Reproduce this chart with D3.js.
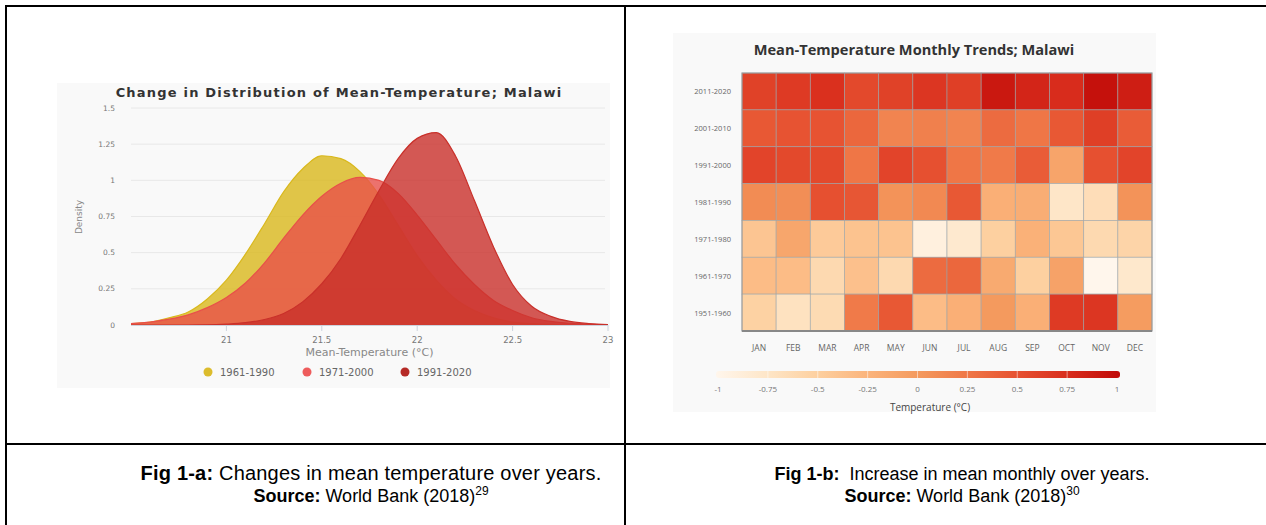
<!DOCTYPE html>
<html>
<head>
<meta charset="utf-8">
<script src="https://cdn.jsdelivr.net/npm/d3@7"></script>
<style>
  body { margin: 0; background: #fff; }
  svg { display: block; }
</style>
</head>
<body>
<svg id="fig" width="1266" height="525"></svg>
<script>
// ---- Fig 1-a data: density of mean temperature ----
const tempPoints = [20.5, 20.6, 20.7, 20.8, 20.9, 21.0, 21.1, 21.2, 21.3, 21.4, 21.5, 21.6, 21.7,
                    21.8, 21.9, 22.0, 22.1, 22.2, 22.3, 22.4, 22.5, 22.6, 22.7, 22.8, 22.9, 23.0];
const density1961 = [0.01, 0.02, 0.05, 0.09, 0.18, 0.31, 0.49, 0.70, 0.92, 1.08, 1.17, 1.15, 1.06,
                     0.90, 0.69, 0.48, 0.31, 0.18, 0.10, 0.05, 0.02, 0.01, 0.004, 0, 0, 0];
const density1971 = [0.01, 0.02, 0.04, 0.07, 0.12, 0.19, 0.29, 0.43, 0.60, 0.76, 0.89, 0.98, 1.02,
                     1.00, 0.91, 0.76, 0.59, 0.42, 0.28, 0.17, 0.10, 0.05, 0.025, 0.012, 0.005, 0.002];
const density1991 = [0, 0, 0, 0, 0.001, 0.006, 0.016, 0.038, 0.08, 0.16, 0.285, 0.46, 0.69,
                     0.93, 1.15, 1.29, 1.33, 1.17, 0.86, 0.54, 0.28, 0.13, 0.06, 0.025, 0.01, 0.003];
const periodNames = ["1961-1990", "1971-2000", "1991-2020"];
const densityTicks = [0, 0.25, 0.5, 0.75, 1, 1.25, 1.5];
const tempTicks = [21, 21.5, 22, 22.5, 23];

// ---- Fig 1-b data: monthly anomaly by decade (°C) ----
const decades = ["2011-2020", "2001-2010", "1991-2000", "1981-1990", "1971-1980", "1961-1970", "1951-1960"];
const months = ["JAN", "FEB", "MAR", "APR", "MAY", "JUN", "JUL", "AUG", "SEP", "OCT", "NOV", "DEC"];
const anomalies = [
  [0.60, 0.65, 0.72, 0.55, 0.60, 0.68, 0.62, 0.90, 0.80, 0.75, 0.95, 0.85],
  [0.45, 0.48, 0.48, 0.35, 0.15, 0.18, 0.15, 0.32, 0.25, 0.45, 0.62, 0.42],
  [0.58, 0.55, 0.55, 0.25, 0.58, 0.50, 0.25, 0.22, 0.42, -0.10, 0.50, 0.58],
  [0.10, 0.08, 0.50, 0.46, 0.05, 0.12, 0.45, -0.20, -0.18, -0.75, -0.65, 0.05],
  [-0.40, -0.12, -0.45, -0.38, -0.38, -0.90, -0.80, -0.50, -0.22, -0.42, -0.60, -0.55],
  [-0.32, -0.32, -0.60, -0.36, -0.60, 0.32, 0.35, -0.15, -0.50, -0.08, -1.00, -0.78],
  [-0.52, -0.70, -0.62, 0.22, 0.45, -0.32, -0.20, 0.00, -0.20, 0.65, 0.68, -0.02]
];
const legendTicks = [-1, -0.75, -0.5, -0.25, 0, 0.25, 0.5, 0.75, 1];
const legendColors = ["#fff6ec", "#fee6c8", "#fdd0a0", "#fbb47c", "#f49a5e",
                      "#ef7646", "#e65030", "#d82c1c", "#c00a08"];

const svg = d3.select("#fig");
svg.append("rect").attr("width", 1266).attr("height", 525).attr("fill", "#fff");

// =================== left chart ===================
const left = svg.append("g");
left.append("rect").attr("x", 57).attr("y", 83).attr("width", 553).attr("height", 305).attr("fill", "#f9f9f9");

const x = d3.scaleLinear().domain([20.5, 23]).range([131, 608]);
const y = d3.scaleLinear().domain([0, 1.5]).range([325, 108]);

left.append("g").selectAll("line").data(densityTicks.filter(d => d > 0)).join("line")
  .attr("x1", 131).attr("x2", 605)
  .attr("y1", d => y(d)).attr("y2", d => y(d))
  .attr("stroke", "#e8e8e8").attr("stroke-width", 1);

left.append("g").selectAll("text").data(densityTicks).join("text")
  .attr("x", 115).attr("y", d => y(d) + 2.5)
  .attr("text-anchor", "end")
  .attr("font-family", "DejaVu Sans").attr("font-size", 7.5).attr("fill", "#777")
  .text(d => d);

const series = [
  { name: periodNames[0], values: density1961, color: "#d9b81c", legend: "#dcbc2c" },
  { name: periodNames[1], values: density1971, color: "#e8504a", legend: "#ee5c5c" },
  { name: periodNames[2], values: density1991, color: "#c9302a", legend: "#b52a26" }
];

const area = d3.area()
  .x((d, i) => x(tempPoints[i]))
  .y0(y(0))
  .y1(d => y(d))
  .curve(d3.curveMonotoneX);
const line = d3.line()
  .x((d, i) => x(tempPoints[i]))
  .y(d => y(d))
  .curve(d3.curveMonotoneX);

series.forEach(s => {
  left.append("path").datum(s.values).attr("d", area)
    .attr("fill", s.color).attr("fill-opacity", 0.8);
  left.append("path").datum(s.values).attr("d", line)
    .attr("fill", "none").attr("stroke", s.color).attr("stroke-width", 1.2);
});

// x axis
left.append("line").attr("x1", 131).attr("x2", 608).attr("y1", 325.5).attr("y2", 325.5)
  .attr("stroke", "#ccd3dd");
const xTicks = left.append("g").selectAll("g").data(tempTicks).join("g")
  .attr("transform", d => `translate(${x(d)},0)`);
xTicks.append("line").attr("y1", 325).attr("y2", 331).attr("stroke", "#ccd3dd");
xTicks.append("text").attr("y", 343).attr("text-anchor", "middle")
  .attr("font-family", "DejaVu Sans").attr("font-size", 8.5).attr("fill", "#777")
  .text(d => d);

left.append("text").attr("x", x(21.75)).attr("y", 356).attr("text-anchor", "middle")
  .attr("font-family", "DejaVu Sans").attr("font-size", 11).attr("fill", "#888")
  .text("Mean-Temperature (°C)");
left.append("text").attr("transform", "translate(82,217) rotate(-90)").attr("text-anchor", "middle")
  .attr("font-family", "DejaVu Sans").attr("font-size", 9).attr("fill", "#888")
  .text("Density");

left.append("text").attr("x", 339).attr("y", 97).attr("text-anchor", "middle")
  .attr("font-family", "DejaVu Sans").attr("font-weight", "bold").attr("font-size", 13)
  .attr("letter-spacing", 1.2).attr("fill", "#333")
  .text("Change in Distribution of Mean-Temperature; Malawi");

// legend
const legendX = [208, 307, 405];
const lg = left.append("g").selectAll("g").data(series).join("g")
  .attr("transform", (d, i) => `translate(${legendX[i]},372)`);
lg.append("circle").attr("r", 4.5).attr("fill", d => d.legend);
lg.append("text").attr("x", 12).attr("y", 3.5)
  .attr("font-family", "DejaVu Sans").attr("font-size", 10).attr("fill", "#666")
  .text(d => d.name);

// =================== right chart ===================
const right = svg.append("g");
right.append("rect").attr("x", 673).attr("y", 33).attr("width", 483).attr("height", 379).attr("fill", "#f9f9f9");

right.append("text").attr("x", 914).attr("y", 55).attr("text-anchor", "middle")
  .attr("font-family", "Open Sans").attr("font-weight", "bold").attr("font-size", 14.6)
  .attr("fill", "#333")
  .text("Mean-Temperature Monthly Trends; Malawi");

const col = d3.scaleBand().domain(months).range([742, 1152]);
const row = d3.scaleBand().domain(decades).range([73, 331]);
const color = d3.scaleLinear().domain(legendTicks).range(legendColors).interpolate(d3.interpolateRgb);

const cells = [];
anomalies.forEach((r, i) => r.forEach((v, j) => cells.push({ decade: decades[i], month: months[j], v })));

right.append("g").selectAll("rect").data(cells).join("rect")
  .attr("x", d => col(d.month)).attr("y", d => row(d.decade))
  .attr("width", col.bandwidth()).attr("height", row.bandwidth())
  .attr("fill", d => color(d.v))
  .attr("stroke", "#9aa4aa").attr("stroke-width", 0.8).attr("stroke-opacity", 0.7);

right.append("rect").attr("x", 742).attr("y", 73).attr("width", 410).attr("height", 258)
  .attr("fill", "none").attr("stroke", "#999").attr("stroke-width", 1);
right.append("line").attr("x1", 742).attr("x2", 1152).attr("y1", 331).attr("y2", 331)
  .attr("stroke", "#888").attr("stroke-width", 2);

right.append("g").selectAll("text").data(decades).join("text")
  .attr("x", 731).attr("y", d => row(d) + row.bandwidth() / 2 + 3)
  .attr("text-anchor", "end")
  .attr("font-family", "Open Sans").attr("font-size", 7.5).attr("fill", "#666")
  .text(d => d);

right.append("g").selectAll("text").data(months).join("text")
  .attr("x", d => col(d) + col.bandwidth() / 2).attr("y", 351)
  .attr("text-anchor", "middle")
  .attr("font-family", "Open Sans").attr("font-size", 8.5).attr("fill", "#666")
  .text(d => d);

// colour legend
const lx = d3.scaleLinear().domain([-1, 1]).range([718, 1117]);
const grad = svg.append("defs").append("linearGradient").attr("id", "tempGrad");
grad.selectAll("stop").data(legendTicks).join("stop")
  .attr("offset", d => (d + 1) / 2)
  .attr("stop-color", d => color(d));
right.append("rect").attr("x", 716).attr("y", 371).attr("width", 404).attr("height", 7).attr("rx", 3)
  .attr("fill", "url(#tempGrad)");
right.append("g").selectAll("line").data(legendTicks.slice(1, -1)).join("line")
  .attr("x1", d => lx(d)).attr("x2", d => lx(d)).attr("y1", 371).attr("y2", 378)
  .attr("stroke", "#fff").attr("stroke-opacity", 0.5);
right.append("g").selectAll("text").data(legendTicks).join("text")
  .attr("x", d => lx(d)).attr("y", 392).attr("text-anchor", "middle")
  .attr("font-family", "Open Sans").attr("font-size", 8).attr("fill", "#777")
  .text(d => d);
right.append("text").attr("x", 930).attr("y", 411).attr("text-anchor", "middle")
  .attr("font-family", "Open Sans").attr("font-size", 10).attr("fill", "#444")
  .text("Temperature (°C)");

// =================== table frame & captions ===================
const frame = svg.append("g").attr("stroke", "#000").attr("stroke-width", 2);
frame.append("line").attr("x1", 5).attr("x2", 1266).attr("y1", 6).attr("y2", 6);
frame.append("line").attr("x1", 6).attr("x2", 6).attr("y1", 5).attr("y2", 525);
frame.append("line").attr("x1", 625).attr("x2", 625).attr("y1", 5).attr("y2", 525);
frame.append("line").attr("x1", 5).attr("x2", 1266).attr("y1", 444).attr("y2", 444);

// the first left caption line is set a little larger in the source
const captions = [
  { cx: 371, head: "Fig 1-a:", text: " Changes in mean temperature over years.", sup: "29", size1: 20, ls: 0.2 },
  { cx: 962, head: "Fig 1-b:", text: "\u00a0 Increase in mean monthly over years.", sup: "30", size1: 18, ls: 0 }
];
captions.forEach(c => {
  const t1 = svg.append("text").attr("x", c.cx).attr("y", 480).attr("text-anchor", "middle")
    .attr("letter-spacing", c.ls)
    .attr("font-family", "Liberation Sans").attr("font-size", c.size1).attr("fill", "#000");
  t1.append("tspan").attr("font-weight", "bold").text(c.head);
  t1.append("tspan").text(c.text);
  const t2 = svg.append("text").attr("x", c.cx).attr("y", 502).attr("text-anchor", "middle")
    .attr("font-family", "Liberation Sans").attr("font-size", 18).attr("fill", "#000");
  t2.append("tspan").attr("font-weight", "bold").text("Source:");
  t2.append("tspan").text(" World Bank (2018)");
  t2.append("tspan").attr("font-size", 12).attr("dy", -7).text(c.sup);
});
</script>
</body>
</html>
